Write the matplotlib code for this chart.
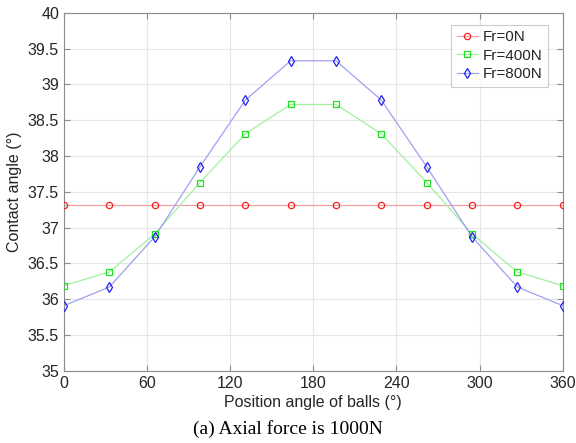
import numpy as np
import matplotlib
matplotlib.use("Agg")
import matplotlib.pyplot as plt
from matplotlib.lines import Line2D

angles = [i * 360 / 11 for i in range(12)]
fr0 = [37.32] * 12
fr400 = [36.19, 36.38, 36.91, 37.63, 38.31, 38.72, 38.72, 38.31, 37.63, 36.91, 36.38, 36.19]
fr800 = [35.91, 36.17, 36.87, 37.85, 38.78, 39.33, 39.33, 38.78, 37.85, 36.87, 36.17, 35.91]
xticks = [0, 60, 120, 180, 240, 300, 360]
yticks = [35, 35.5, 36, 36.5, 37, 37.5, 38, 38.5, 39, 39.5, 40]

plt.rcParams['font.family'] = ['Liberation Sans', 'DejaVu Sans']
fig = plt.figure(figsize=(5.76, 4.43), dpi=100)
ax = fig.add_axes([0.111, 0.163, 0.866, 0.808])

series = [
    (fr0, 'Fr=0N', 'o', '#ee2222', '#f5a0a0', 4.5),
    (fr400, 'Fr=400N', 's', '#22dd22', '#a0f0a0', 4.0),
    (fr800, 'Fr=800N', 'd', '#2222ee', '#a0a0f0', 5.0),
]
handles = []
for vals, lab, mk, mc, lc, ms in series:
    ax.plot(angles, vals, color=lc, lw=0.9, zorder=2)
    ax.plot(angles, vals, ls='none', marker=mk, mfc='none', mec=mc, ms=ms, mew=0.9, zorder=3)
    handles.append(Line2D([], [], color=lc, lw=0.9, marker=mk, mfc='none', mec=mc, ms=ms, mew=0.9, label=lab))

ax.set_xlim(0, 360)
ax.set_ylim(35, 40)
ax.set_xticks(xticks)
ax.set_yticks(yticks)
ax.set_yticklabels([('%g' % v) for v in yticks])
ax.grid(True, color='#e6e6e6', lw=0.8)
ax.set_axisbelow(True)
for s in ax.spines.values():
    s.set_color('#8c8c8c')
    s.set_linewidth(0.8)
ax.tick_params(direction='in', top=True, right=True, colors='#8c8c8c', labelcolor='#262626', labelsize=11.5, length=4)
ax.set_xlabel('Position angle of balls (°)', fontsize=11.5, color='#262626', labelpad=3)
ax.set_ylabel('Contact angle (°)', fontsize=11.5, color='#262626', labelpad=4)

leg = ax.legend(handles=handles, loc='upper right', bbox_to_anchor=(0.97, 0.967), fontsize=11, frameon=True, fancybox=False,
                edgecolor='#bfbfbf', handlelength=1.4, handletextpad=0.3, borderpad=0.35, labelspacing=0.3,
                borderaxespad=0)
leg.get_frame().set_linewidth(0.8)
for t in leg.get_texts():
    t.set_color('#262626')

fig.text(0.5, 0.012, '(a) Axial force is 1000N', ha='center', va='bottom', fontsize=14,
         family='Liberation Serif')

fig.savefig('out.png', dpi=100)
